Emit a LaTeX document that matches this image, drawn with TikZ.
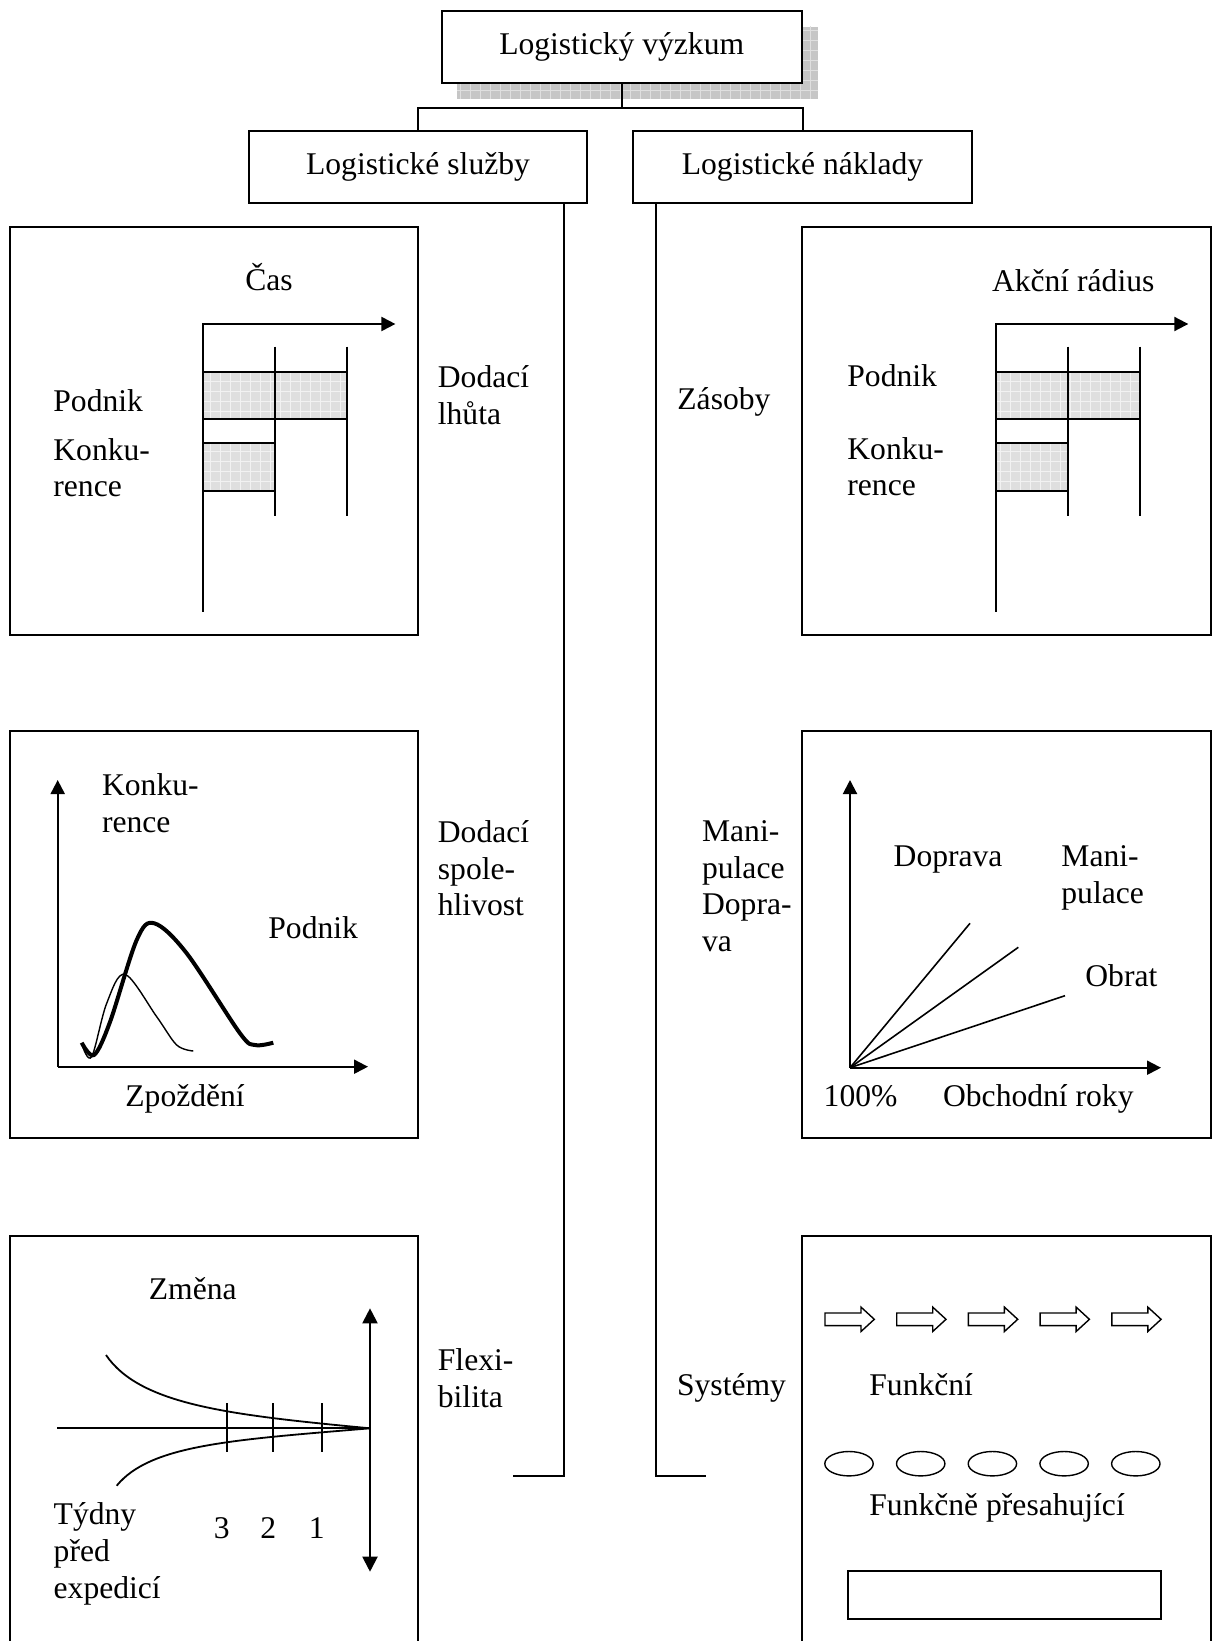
\documentclass[tikz,border=0pt]{standalone}
\usepackage{fontspec}
\setmainfont{Liberation Serif}
\usetikzlibrary{arrows.meta,patterns.meta}
\newcommand\lbfont{\fontsize{15.8}{18.35}\selectfont}

\begin{document}
\begin{tikzpicture}[x=0.5pt, y=-0.5pt,
		box/.style={draw, line width=1pt, fill=white, inner sep=0pt, minimum height=36pt, font=\lbfont},
		lbl/.style={inner sep=0pt, anchor=base west, font=\lbfont},
		lines/.style={inner sep=0pt, anchor=north west, align=left, font=\lbfont},
		panel/.style={line width=1pt},
		ax/.style={line width=1pt, -{Triangle[length=7pt, width=7pt]}},
		bar/.style={line width=1pt, preaction={fill=gray!25}, preaction={pattern={Hatch[angle=0, distance=5pt, line width=0.4pt]}, pattern color=gray!10}, draw},
		shade/.style={fill=gray!45, postaction={pattern={Hatch[angle=0, distance=5pt, line width=0.5pt]}, pattern color=gray!25}}]
			\useasboundingbox (0,0) rectangle (1217,1641);
			% tree
			\fill[shade] (457,27) rectangle (818,99);
			\node[box, minimum width=180pt] (vyzkum) at (621.7,46.8) {Logistický výzkum};
			\node[box, minimum width=169pt] (sluzby) at (418,166.7) {Logistické služby};
			\node[box, minimum width=169.3pt] (naklady) at (802.5,166.7) {Logistické náklady};
			\draw[line width=1pt] (vyzkum.south) -- ++(0,24) coordinate (bus);
			\draw[line width=1pt] (sluzby.north) |- (bus) -| (naklady.north);
			\coordinate (endL) at (513.3,1475.7);
			\coordinate (endR) at (706,1475.7);
			\draw[line width=1pt] ([xshift=-12pt]sluzby.south east) |- (endL);
			\draw[line width=1pt] ([xshift=12pt]naklady.south west) |- (endR);
			% panels
			\draw[panel] (9.6,227) rectangle (418,635);
			\draw[panel] (802,227) rectangle (1210.5,635);
			\draw[panel] (9.6,731) rectangle (418,1138);
			\draw[panel] (802,731) rectangle (1210.5,1138);
			\draw[panel] (9.6,1641) -- (9.6,1235.5) -- (418,1235.5) -- (418,1641);
			\draw[panel] (802,1641) -- (802,1235.5) -- (1210.5,1235.5) -- (1210.5,1641);
			% bar charts
			\foreach \dx in {0,792.9}{
			  \path[bar] (202.7+\dx,371.7) rectangle (347.3+\dx,419.3);
			  \path[bar] (202.7+\dx,443.3) rectangle (275+\dx,491);
			  \draw[line width=1pt] (275+\dx,346.7) -- (275+\dx,515.7);
			  \draw[line width=1pt] (347.3+\dx,346.7) -- (347.3+\dx,515.7);
			  \draw[ax] (202.7+\dx,611.7) -- (202.7+\dx,324) -- (395.4+\dx,324);
			}
			\node[lbl, anchor=base] (cas) at (269,290.7) {Čas};
			\node[lbl] (podnikA) at (53,411.7) {Podnik};
			\node[lines] (konkuA) at (53,437.7) {Konku-\\rence};
			\node[lines] (lhuta) at (437.5,365.1) {Dodací\\lhůta};
			\node[lbl] (radius) at (991.6,291.7) {Akční rádius};
			\node[lbl] (podnikB) at (847,386.7) {Podnik};
			\node[lines] (konkuB) at (847,436.7) {Konku-\\rence};
			\node[lbl] (zasoby) at (677,410) {Zásoby};
			% delivery reliability
			\coordinate (o2) at (57.7,1066.7);
			\draw[ax] (o2) -- (57.7,780);
			\draw[ax] (o2) -- (368,1066.7);
			\draw[line width=2pt, line join=round] plot[smooth, tension=0.55] coordinates {(81.7,1042.7) (94,1055) (110,1022) (136.7,940) (154.3,923.3) (186.7,953.3) (240,1033.3) (255,1045) (273.3,1042.7)};
			\draw[line width=0.7pt] plot[smooth, tension=0.55] coordinates {(82.5,1046) (91.7,1056.7) (106.7,1003.3) (125,974.3) (156.7,1016.7) (176.7,1045) (193.3,1051)};
			\node[lines] (konkuC) at (101.7,773.4) {Konku-\\rence};
			\node[lbl] (podnikC) at (268,938.3) {Podnik};
			\node[lbl] (zpozdeni) at (125,1106.7) {Zpoždění};
			\node[lines] (spolehl) at (437.5,820.1) {Dodací\\spole-\\hlivost};
			\node[lines] (manip) at (701.7,820.1) {Mani-\\pulace\\Dopra-\\va};
			% cost growth
			\coordinate (o3) at (850,1067.7);
			\draw[ax] (o3) -- (850,780);
			\draw[ax] (o3) -- (1161,1067.7);
			\draw[line width=0.8pt] (o3) -- (970,923.3);
			\draw[line width=0.8pt] (o3) -- (1018.3,947.3);
			\draw[line width=0.8pt] (o3) -- (1065,995.7);
			\node[lbl] (doprava) at (893.3,866.7) {Doprava};
			\node[lines] (manipB) at (1061,845.1) {Mani-\\pulace};
			\node[lbl] (obrat) at (1085,986.7) {Obrat};
			\node[lbl] (sto) at (823.3,1106.7) {100\%};
			\node[lbl] (roky) at (942.7,1106.7) {Obchodní roky};
			% flexibility
			\coordinate (tip) at (370,1428.3);
			\draw[line width=0.9pt] (57.3,1428.3) -- (tip);
			\draw[line width=0.9pt] (106,1355) .. controls (140,1405) and (230,1415) .. (tip);
			\draw[line width=0.9pt] (116.7,1485.7) .. controls (150,1445) and (230,1440) .. (tip);
			\foreach \x/\w in {226.7/3, 273.3/2, 321.7/1}{
			  \draw[line width=1pt] (\x,1403.3) -- (\x,1451.7);
			  \node[lbl, anchor=base] (wk\w) at (\x-5,1538.3) {\w};
			}
			\draw[line width=1pt, {Triangle[length=7.5pt, width=7.5pt]}-{Triangle[length=7.5pt, width=7.5pt]}] (370,1308.3) -- (370,1571.7);
			\node[lbl, anchor=base] (zmena) at (192.8,1299.3) {Změna};
			\node[lines] (tydny) at (53.3,1502.4) {Týdny\\před\\expedicí};
			\node[lines] (flexi) at (437.5,1348.4) {Flexi-\\bilita};
			% systems
			\node[lbl] (systemy) at (676.7,1395) {Systémy};
			\foreach \i in {0,...,4}{
			  \draw[line width=0.7pt] ({825+71.7*\i},1313) -- ++(36,0) -- ++(0,-5.9) -- ++(13.3,12.2) -- ++(-13.3,12.2) -- ++(0,-5.9) -- ++(-36,0) -- cycle;
			  \draw[line width=0.7pt] ({849+71.7*\i},1463.7) ellipse [x radius=12.1pt, y radius=6.1pt];
			}
			\node[lbl] (funkcni) at (869,1395) {Funkční};
			\node[lbl] (presah) at (869,1515) {Funkčně přesahující};
			\draw[line width=1pt] (848.3,1571) rectangle (1161,1619.3);
		\end{tikzpicture}
\end{document}
